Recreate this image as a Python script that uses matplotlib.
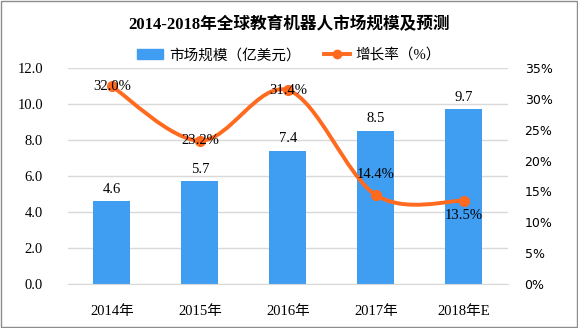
import numpy as np
import matplotlib.pyplot as plt
from matplotlib.path import Path
from matplotlib.patches import PathPatch, Rectangle
from matplotlib.lines import Line2D

plt.rcParams['font.family'] = ['Liberation Serif', 'Noto Sans CJK SC', 'DejaVu Sans']

# market size (100 million USD) and growth rate (%)
years = ['2014年', '2015年', '2016年', '2017年', '2018年E']
market_size = [4.6, 5.7, 7.4, 8.5, 9.7]
growth = [32.0, 23.2, 31.4, 14.4, 13.5]
growth_offsets = [0, 0, 0, 15, -11]  # label shift in points

bar_color = '#3F9DF2'
line_color = '#FF6A1F'

fig = plt.figure(figsize=(5.78, 3.28), dpi=100)
ax = fig.add_axes([0.1176, 0.134, 0.7612, 0.659])
x = np.arange(len(years))

bars = ax.bar(x, market_size, width=0.42, color=bar_color, zorder=2)
for xi, v in zip(x, market_size):
    ax.annotate(f'{v:.1f}', (xi, v), xytext=(0, 4), textcoords='offset points',
                ha='center', va='bottom', fontsize=10.5)

ax.set_xlim(-0.5, len(years) - 0.5)
ax.set_ylim(0, 12)
ax.set_yticks(np.arange(0, 12.1, 2))
ax.set_yticklabels([f'{v:.1f}' for v in np.arange(0, 12.1, 2)])
ax.set_xticks(x)
ax.set_xticklabels(years)
ax.grid(axis='y', color='#D9D9D9', linewidth=1, zorder=0)
ax.set_axisbelow(True)
for s in ['top', 'right', 'left']:
    ax.spines[s].set_visible(False)
ax.spines['bottom'].set_color('#D9D9D9')
ax.tick_params(axis='y', length=0, pad=18, labelsize=10.5)
ax.tick_params(axis='x', length=0, pad=15, labelsize=10.5)

ax2 = ax.twinx()
ax2.set_ylim(0, 35)
ax2.set_yticks(np.arange(0, 36, 5))
ax2.set_yticklabels([f'{v}%' for v in range(0, 36, 5)], family='DejaVu Sans')
ax2.tick_params(axis='y', length=0, pad=12, labelsize=9)
for s in ax2.spines.values():
    s.set_visible(False)

# smoothed growth curve (Catmull-Rom as cubic Bezier segments)
pts = np.column_stack([x, growth]).astype(float)
verts = [pts[0]]
codes = [Path.MOVETO]
for i in range(len(pts) - 1):
    p0 = pts[i - 1] if i > 0 else pts[i]
    p1, p2 = pts[i], pts[i + 1]
    p3 = pts[i + 2] if i + 2 < len(pts) else pts[i + 1]
    c1 = p1 + (p2 - p0) / 6
    c2 = p2 - (p3 - p1) / 6
    verts += [c1, c2, p2]
    codes += [Path.CURVE4] * 3
ax2.add_patch(PathPatch(Path(verts, codes), facecolor='none', edgecolor=line_color,
                        linewidth=2.8, zorder=3))
ax2.plot(x, growth, 'o', color=line_color, markersize=7, zorder=4)
for xi, v, off in zip(x, growth, growth_offsets):
    ax2.annotate(f'{v:.1f}%', (xi, v), xytext=(0, off), textcoords='offset points',
                 ha='center', va='center', fontsize=10.5, zorder=5)

fig.text(0.5, 0.925, '2014-2018年全球教育机器人市场规模及预测', ha='center', va='center',
         fontsize=12, fontweight='bold')

handles = [Rectangle((0, 0), 1, 1, color=bar_color),
           Line2D([], [], color=line_color, linewidth=2.8, marker='o', markersize=6)]
fig.legend(handles, ['市场规模（亿美元）', '增长率（%）'], loc='center', ncol=2,
           bbox_to_anchor=(0.5, 0.832), frameon=False, fontsize=10.5,
           handlelength=1.8, handletextpad=0.4, columnspacing=1.6)

fig.patches.append(Rectangle((0.001, 0.002), 0.997, 0.995, transform=fig.transFigure,
                             fill=False, edgecolor='#8C8C8C', linewidth=1))

fig.savefig('out.png', dpi=100)
